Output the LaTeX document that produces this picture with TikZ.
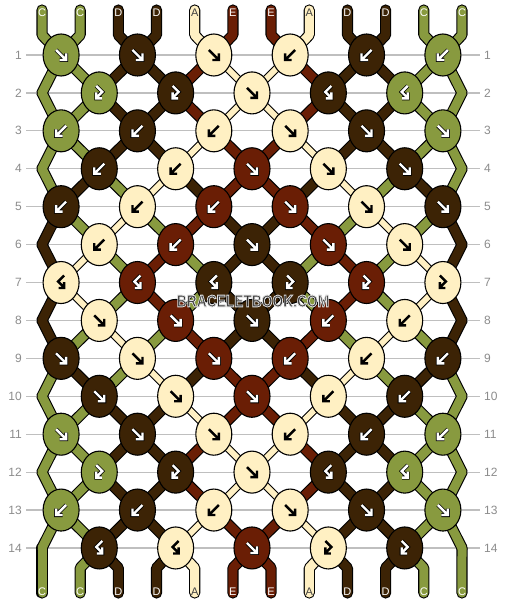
\documentclass[tikz,border=0pt]{standalone}
\usepackage{fontspec}
\setmainfont{Liberation Sans}
\usetikzlibrary{shapes.geometric,backgrounds}

%%Thread colours
\definecolor{colC}{HTML}{889A3F}
\definecolor{colD}{HTML}{3C2305}
\definecolor{colA}{HTML}{FFF0C3}
\definecolor{colE}{HTML}{6A1E05}
\colorlet{arrC}{white}\colorlet{arrD}{white}\colorlet{arrE}{white}\colorlet{arrA}{black}
\colorlet{haloC}{black}\colorlet{haloD}{black}\colorlet{haloE}{black}\colorlet{haloA}{colA}
\colorlet{labC}{white}\colorlet{labD}{white}\colorlet{labE}{white}\colorlet{labA}{black!75}
%%Thread widths between knots
\def\wC{9}\def\wD{9}\def\wE{9}\def\wA{5.8}
%%Outlined text for the watermark (fill and stroke in one go)
\newcommand\outlined[1]{\special{pdf:literal direct 2 Tr 0.85 w 0.88 G}#1\special{pdf:literal direct 0 Tr}}

\tikzset{
  knotnode/.style={ellipse, draw=black, line width=1.1, fill=#1, minimum width=36, minimum height=42, inner sep=0},
  strand/.style={draw=#1, line width=9, line cap=round, line join=round},
  strandedge/.style={draw=black},
  glyph/.style={draw=#1, line width=2.4, line cap=butt, line join=miter},
  glyphhalo/.style={draw=#1, line width=4, line cap=butt, line join=miter},
  rownum/.style={text=black!45, font=\fontsize{12}{14}\selectfont, inner sep=0},
  endlabel/.style={text=#1, font=\fontsize{11}{13}\selectfont, inner sep=0},
  gridline/.style={draw=black!25, line width=1.2},
  watermark/.style={font=\bfseries\fontsize{17}{19}\selectfont, inner sep=0}
}

%%Knot arrows
\newcommand\glyphf[1]{\draw[#1] (-5,-5) -- (4,4) (5,-1.5) -- (5,5) -- (-1.5,5);}
\newcommand\glyphb[1]{\draw[#1] (5,-5) -- (-4,4) (-5,-1.5) -- (-5,5) -- (1.5,5);}
\newcommand\glyphfb[1]{\draw[#1] (-3,-7) -- (3,-1) -- (-2.5,4.5) (-3,-0.5) -- (-3,5.5) -- (2.5,5.5);}
\newcommand\glyphbf[1]{\draw[#1] (3,-7) -- (-3,-1) -- (2.5,4.5) (3,-0.5) -- (3,5.5) -- (-2.5,5.5);}

%%Threads, row by row (#1 extra width, #2 extra style)
\newcommand\strands[2]{%
  \foreach \c [count=\p] in {C,C,D,D,A,E,E,A,D,D,C,C}
    {\draw[strand=col\c,line width=9+#1,#2] (top-\p) -- (s-0-\p) -- (s-1-\p);}
  \foreach \r/\row in {
    1/{C,C,D,D,E,A,A,E,D,D,C,C},
    2/{C,C,D,D,E,A,A,E,D,D,C,C},
    3/{C,C,D,D,A,E,E,A,D,D,C,C},
    4/{C,D,C,A,D,E,E,D,A,C,D,C},
    5/{D,C,A,C,E,D,D,E,C,A,C,D},
    6/{D,A,C,E,C,D,D,C,E,C,A,D},
    7/{D,A,C,E,C,D,D,C,E,C,A,D},
    8/{D,C,A,C,E,D,D,E,C,A,C,D},
    9/{C,D,C,A,D,E,E,D,A,C,D,C},
    10/{C,C,D,D,A,E,E,A,D,D,C,C},
    11/{C,C,D,D,E,A,A,E,D,D,C,C},
    12/{C,C,D,D,E,A,A,E,D,D,C,C},
    13/{C,C,D,D,A,E,E,A,D,D,C,C}}{
    \pgfmathtruncatemacro\rn{\r+1}
    \foreach \c [count=\p] in \row
      {\draw[strand=col\c,line width=\csname w\c\endcsname+#1,#2] (s-\r-\p) -- (s-\rn-\p);}
  }
  \foreach \c [count=\p] in {C,C,D,D,A,E,E,A,D,D,C,C}
    {\draw[strand=col\c,line width=9+#1,#2] (s-14-\p) -- (s-15-\p) -- (bot-\p);}
}

\begin{document}
\begin{tikzpicture}[x=1pt,y=-1pt]
\useasboundingbox (0,0) rectangle (506,604);
%%Knots
\foreach \r/\row in {
  1/{C/f,D/f,A/f,A/b,D/b,C/b},
  2/{C/fb,D/fb,A/f,D/bf,C/bf},
  3/{C/b,D/b,A/b,A/f,D/f,C/f},
  4/{D/b,A/b,E/f,A/f,D/f},
  5/{D/b,A/b,E/b,E/f,A/f,D/f},
  6/{A/b,E/b,D/f,E/f,A/f},
  7/{A/bf,E/bf,D/bf,D/fb,E/fb,A/fb},
  8/{A/f,E/f,D/f,E/b,A/b},
  9/{D/f,A/f,E/f,E/b,A/b,D/b},
  10/{D/f,A/f,E/f,A/b,D/b},
  11/{C/f,D/f,A/f,A/b,D/b,C/b},
  12/{C/fb,D/fb,A/f,D/bf,C/bf},
  13/{C/b,D/b,A/b,A/f,D/f,C/f},
  14/{D/bf,A/bf,E/f,A/fb,D/fb}}{
  \pgfmathsetmacro\ky{55+37.92*(\r-1)}
  \foreach \c/\t [count=\i] in \row {
    \pgfmathsetmacro\kx{42+38.18*(2*\i-1.5+mod(\r+1,2))}
    \node[knotnode=col\c] (k-\r-\i) at (\kx,\ky) {};
    \begin{scope}[shift={(k-\r-\i.center)}]
      \csname glyph\t\endcsname{glyphhalo=halo\c}
      \csname glyph\t\endcsname{glyph=arr\c}
    \end{scope}
  }
}
%%Thread positions
\foreach \r in {1,...,14}{
  \pgfmathsetmacro\ky{55+37.92*(\r-1)}
  \foreach \p in {1,...,12}{
    \ifodd\r
      \pgfmathtruncatemacro\i{(\p+1)/2}
      \coordinate (s-\r-\p) at (k-\r-\i.center);
    \else
      \pgfmathtruncatemacro\i{\p/2}
      \ifnum\i=0 \coordinate (s-\r-\p) at (42,\ky);
      \else\ifnum\i=6 \coordinate (s-\r-\p) at (462,\ky);
      \else \coordinate (s-\r-\p) at (k-\r-\i.center);
      \fi\fi
    \fi
  }
}
\foreach \c [count=\p] in {C,C,D,D,A,E,E,A,D,D,C,C}{
  \pgfmathsetmacro\sx{42+38.18*(\p-1)}
  \coordinate (top-\p) at (\sx,10);
  \coordinate (s-0-\p) at (\sx,35);
  \coordinate (s-15-\p) at (\sx,568);
  \coordinate (bot-\p) at (\sx,593);
  \node[endlabel=lab\c] (t-\p) at (\sx,12.5) {\c};
  \node[endlabel=lab\c] (b-\p) at (\sx,592) {\c};
}
%%Row numbers
\foreach \r in {1,...,14}{
  \pgfmathsetmacro\ky{55+37.92*(\r-1)}
  \node[rownum, anchor=east] (nl-\r) at (22,\ky) {\r};
  \node[rownum, anchor=west] (nr-\r) at (484,\ky) {\r};
}
%%Watermark
\node[watermark, text=black!80] (wm) at (253,301) {\scalebox{0.81}[1]{\outlined{BRACELETBOOK.COM}}};
%%Grid and threads behind the knots
\begin{pgfonlayer}{background}
  \fill[white] (0,0) rectangle (506,604);
  \foreach \r in {1,...,14}
    \draw[gridline] ([xshift=4]nl-\r.east) -- ([xshift=-4]nr-\r.west);
  \strands{2.2}{strandedge}
  \strands{0}{}
\end{pgfonlayer}
\end{tikzpicture}
\end{document}
